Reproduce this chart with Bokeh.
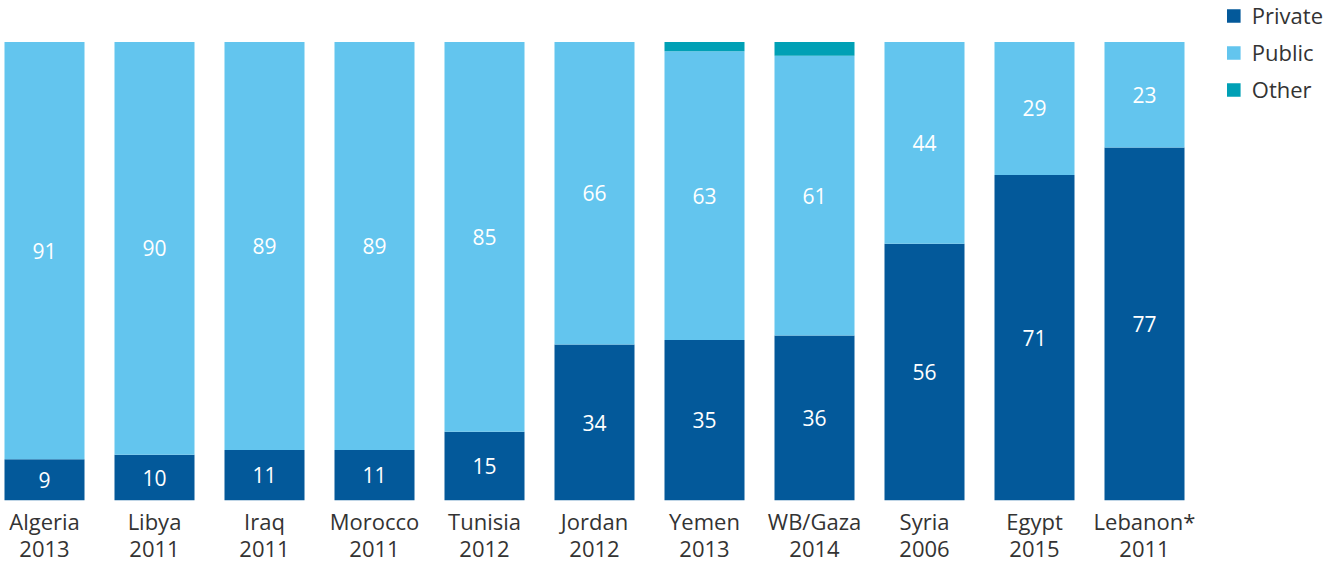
import numpy as np
from bokeh.plotting import figure
from bokeh.models import ColumnDataSource, Range1d, Legend, LegendItem
from bokeh.core.properties import value
from bokeh.embed import file_html
from bokeh.resources import INLINE

countries = ["Algeria", "Libya", "Iraq", "Morocco", "Tunisia", "Jordan",
             "Yemen", "WB/Gaza", "Syria", "Egypt", "Lebanon*"]
years = ["2013", "2011", "2011", "2011", "2012", "2012",
         "2013", "2014", "2006", "2015", "2011"]
private = [9, 10, 11, 11, 15, 34, 35, 36, 56, 71, 77]
public = [91, 90, 89, 89, 85, 66, 63, 61, 44, 29, 23]
other = [0, 0, 0, 0, 0, 0, 2, 3, 0, 0, 0]

series = ["Private", "Public", "Other"]
colors = ["#03599A", "#63C5EE", "#00A0B5"]
FONT = "Open Sans"
TEXT = "#333333"

xs = list(range(len(countries)))
src = ColumnDataSource(dict(x=xs, Private=private, Public=public, Other=other))

FW, FH = 1323, 500
p = figure(frame_width=FW, frame_height=FH, output_backend="svg", toolbar_location=None,
           min_border_left=0, min_border_right=0, min_border_top=0,
           min_border_bottom=0)
p.x_range = Range1d(-44 / 110, -44 / 110 + FW / 110)
p.y_range = Range1d(0, FH / 4.585)

rs = p.vbar_stack(series, x="x", width=80 / 110, color=colors, source=src,
                  line_color=None)

# value labels
pv = np.array(private, dtype=float)
uv = np.array(public, dtype=float)
lab_x = xs + xs
lab_y = list(pv / 2) + list(pv + uv / 2)
lab_t = [str(v) for v in private] + [str(v) for v in public]
lsrc = ColumnDataSource(dict(x=lab_x, y=lab_y, t=lab_t))
p.text(x="x", y="y", text="t", source=lsrc, text_color="white",
       text_font=value(FONT), text_font_size="21px",
       text_align="center", text_baseline="middle")

# axes
p.yaxis.visible = False
p.xgrid.visible = False
p.ygrid.visible = False
p.outline_line_color = None
xa = p.xaxis[0]
xa.ticker = xs
xa.major_label_overrides = {i: f"{c}\n{y}" for i, (c, y) in enumerate(zip(countries, years))}
xa.axis_line_color = None
xa.major_tick_line_color = None
xa.minor_tick_line_color = None
xa.major_tick_out = 0
xa.major_tick_in = 0
xa.major_label_text_font = FONT
xa.major_label_text_font_size = "22px"
xa.major_label_text_color = TEXT
xa.major_label_standoff = 5
xa.major_label_text_line_height = 0.9

legend = Legend(items=[LegendItem(label=s, renderers=[r]) for s, r in zip(series, rs)],
                location="top_right", orientation="vertical",
                glyph_width=17, glyph_height=17, label_standoff=10,
                label_text_font=FONT, label_text_font_size="22px",
                label_text_color=TEXT, spacing=7, padding=0, margin=0,
                border_line_color=None, background_fill_alpha=0)
p.add_layout(legend)

open("out.html", "w").write(file_html(p, INLINE))
